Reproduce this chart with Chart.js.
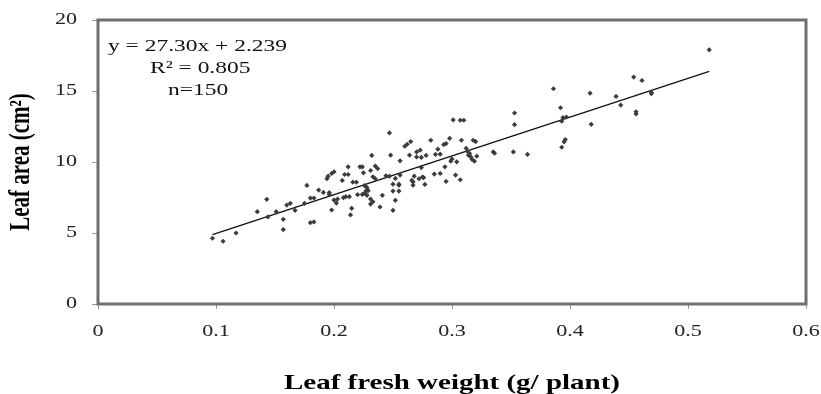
<!DOCTYPE html>
<html>
<head>
<meta charset="utf-8">
<script src="https://cdn.jsdelivr.net/npm/chart.js@4.4.0/dist/chart.umd.min.js"></script>
<style>
  html, body { margin: 0; padding: 0; background: #fff; }
  #wrap { width: 821px; height: 394px; }
</style>
</head>
<body>
<div id="wrap"><canvas id="leafChart" width="821" height="394"></canvas></div>
<script>
// Leaf fresh weight (g/plant) vs leaf area (cm2)
const freshWeight = [
  0.097, 0.106, 0.117, 0.135, 0.143, 0.144, 0.151, 0.157, 0.157, 0.160,
  0.163, 0.167, 0.175, 0.177, 0.180, 0.183, 0.180, 0.183, 0.187, 0.191,
  0.194, 0.195, 0.196, 0.198, 0.200, 0.198, 0.200, 0.202, 0.203, 0.207,
  0.209, 0.210, 0.212, 0.212, 0.213, 0.215, 0.214, 0.216, 0.219, 0.220,
  0.222, 0.224, 0.225, 0.226, 0.227, 0.226, 0.228, 0.229, 0.231, 0.232,
  0.231, 0.231, 0.233, 0.233, 0.235, 0.237, 0.239, 0.241, 0.244, 0.247,
  0.248, 0.250, 0.250, 0.250, 0.252, 0.252, 0.255, 0.255, 0.256, 0.256,
  0.260, 0.262, 0.264, 0.265, 0.266, 0.267, 0.268, 0.270, 0.270, 0.272,
  0.273, 0.274, 0.274, 0.275, 0.277, 0.278, 0.282, 0.285, 0.286, 0.288,
  0.290, 0.290, 0.293, 0.294, 0.295, 0.295, 0.298, 0.299, 0.300, 0.301,
  0.303, 0.304, 0.307, 0.307, 0.308, 0.310, 0.312, 0.313, 0.314, 0.315,
  0.316, 0.317, 0.318, 0.320, 0.319, 0.321, 0.335, 0.336, 0.352, 0.353,
  0.353, 0.364, 0.386, 0.392, 0.393, 0.394, 0.393, 0.395, 0.396, 0.397,
  0.417, 0.418, 0.439, 0.443, 0.454, 0.456, 0.456, 0.461, 0.469, 0.469,
  0.518, 0.196, 0.224, 0.235, 0.267, 0.247, 0.208, 0.255, 0.228, 0.276
];
const leafArea = [
  4.63, 4.42, 5.00, 6.50, 7.37, 6.13, 6.50, 5.96, 5.24, 6.97,
  7.09, 6.60, 7.09, 8.35, 7.46, 7.46, 5.73, 5.78, 8.02, 7.86,
  8.82, 9.00, 7.72, 9.19, 9.31, 6.62, 7.32, 7.11, 7.39, 8.70,
  9.12, 7.56, 9.12, 9.66, 7.56, 6.74, 6.27, 8.58, 8.58, 7.70,
  9.66, 7.72, 9.24, 8.33, 7.95, 7.79, 8.19, 7.98, 9.40, 10.46,
  7.39, 7.04, 7.20, 8.96, 8.82, 9.54, 6.83, 7.65, 9.03, 12.05,
  10.48, 8.44, 7.95, 6.60, 7.30, 8.84, 8.44, 7.95, 9.08, 10.08,
  11.11, 11.25, 10.48, 11.44, 8.70, 8.37, 9.00, 10.36, 10.71, 8.82,
  10.83, 9.61, 10.32, 8.94, 8.42, 10.46, 11.53, 9.15, 10.53, 10.90,
  9.19, 10.55, 11.23, 9.66, 8.63, 11.30, 11.67, 10.06, 10.22, 12.96,
  9.08, 10.01, 12.94, 8.75, 11.53, 12.94, 10.97, 10.76, 10.48, 10.60,
  10.36, 10.18, 11.53, 11.44, 10.06, 10.41, 10.71, 10.62, 10.71, 13.45,
  12.63, 10.53, 15.16, 13.82, 12.87, 13.12, 11.04, 11.42, 11.58, 13.17,
  14.85, 12.65, 14.62, 14.01, 15.98, 13.54, 13.38, 15.74, 14.90, 14.81,
  17.90, 7.84, 9.66, 9.71, 8.60, 9.00, 7.49, 8.37, 7.65, 8.90
];

// Fitted line: y = 27.30x + 2.239
const slope = 27.30;
const intercept = 2.239;
const fitRange = [0.097, 0.518];

const xTicks = [0, 0.1, 0.2, 0.3, 0.4, 0.5, 0.6];
const yTicks = [0, 5, 10, 15, 20];
const xTitle = 'Leaf fresh weight (g/ plant)';
const yTitle = 'Leaf area (cm\u00b2)';
const equationLines = ['y = 27.30x + 2.239', 'R\u00b2 = 0.805', 'n=150'];

const serif = '"Liberation Serif", "Times New Roman", serif';
const axisGray = '#6e6e6e';
const STRETCH = 1.38; // the original figure's text is widened horizontally

const scatterData = freshWeight.map((x, i) => ({ x: x, y: leafArea[i] }));
const fitData = fitRange.map(x => ({ x: x, y: slope * x + intercept }));

function wideText(ctx, txt, x, y, align) {
  ctx.save();
  ctx.translate(x, y);
  ctx.scale(STRETCH, 1);
  ctx.textAlign = align;
  ctx.fillText(txt, 0, 0);
  ctx.restore();
}

// Frame, tick labels, titles and equation drawn by hand so the text can be widened
const framePlugin = {
  id: 'frame',
  afterDraw(chart) {
    const ctx = chart.ctx;
    const a = chart.chartArea;
    const xs = chart.scales.x;
    const ys = chart.scales.y;
    ctx.save();
    ctx.strokeStyle = axisGray;
    ctx.lineWidth = 3;
    ctx.strokeRect(a.left, a.top, a.right - a.left, a.bottom - a.top);

    ctx.textBaseline = 'middle';
    ctx.fillStyle = '#222';
    ctx.font = '16px ' + serif;
    xTicks.forEach(v => wideText(ctx, String(v), xs.getPixelForValue(v), a.bottom + 28, 'center'));
    yTicks.forEach(v => wideText(ctx, String(v), a.left - 21, ys.getPixelForValue(v), 'right'));

    ctx.fillStyle = '#000';
    ctx.font = 'bold 21px ' + serif;
    wideText(ctx, xTitle, (a.left + a.right) / 2, 384, 'center');

    ctx.save();
    ctx.translate(22, (a.top + a.bottom) / 2);
    ctx.rotate(-Math.PI / 2);
    ctx.scale(1, STRETCH);
    ctx.textAlign = 'center';
    ctx.fillText(yTitle, 0, 0);
    ctx.restore();

    ctx.fillStyle = '#111';
    ctx.font = '17px ' + serif;
    const offsets = [[10, 27], [52, 49], [70, 71]];
    equationLines.forEach((txt, i) => {
      wideText(ctx, txt, a.left + offsets[i][0], a.top + offsets[i][1], 'left');
    });
    ctx.restore();
  }
};

const ctx = document.getElementById('leafChart').getContext('2d');
new Chart(ctx, {
  type: 'scatter',
  data: {
    datasets: [
      {
        label: 'Leaf area',
        data: scatterData,
        pointStyle: 'rectRot',
        pointRadius: 2.6,
        backgroundColor: '#3c3c3c',
        borderColor: '#3c3c3c',
        borderWidth: 0
      },
      {
        type: 'line',
        label: 'Fit',
        data: fitData,
        borderColor: '#111',
        borderWidth: 1.3,
        pointRadius: 0,
        fill: false
      }
    ]
  },
  options: {
    responsive: false,
    animation: false,
    layout: { padding: { top: 20, right: 15, left: 0, bottom: 0 } },
    plugins: {
      legend: { display: false },
      tooltip: { enabled: false }
    },
    scales: {
      x: {
        type: 'linear',
        min: 0,
        max: 0.6,
        afterBuildTicks(scale) { scale.ticks = xTicks.map(v => ({ value: v })); },
        afterFit(scale) { scale.height = 90; },
        grid: { drawOnChartArea: false, drawTicks: true, tickLength: 5, color: '#999' },
        border: { display: false },
        ticks: { display: false }
      },
      y: {
        min: 0,
        max: 20,
        afterBuildTicks(scale) { scale.ticks = yTicks.map(v => ({ value: v })); },
        afterFit(scale) { scale.width = 98; },
        grid: { drawOnChartArea: false, drawTicks: true, tickLength: 6, color: '#999' },
        border: { display: false },
        ticks: { display: false }
      }
    }
  },
  plugins: [framePlugin]
});
</script>
</body>
</html>
